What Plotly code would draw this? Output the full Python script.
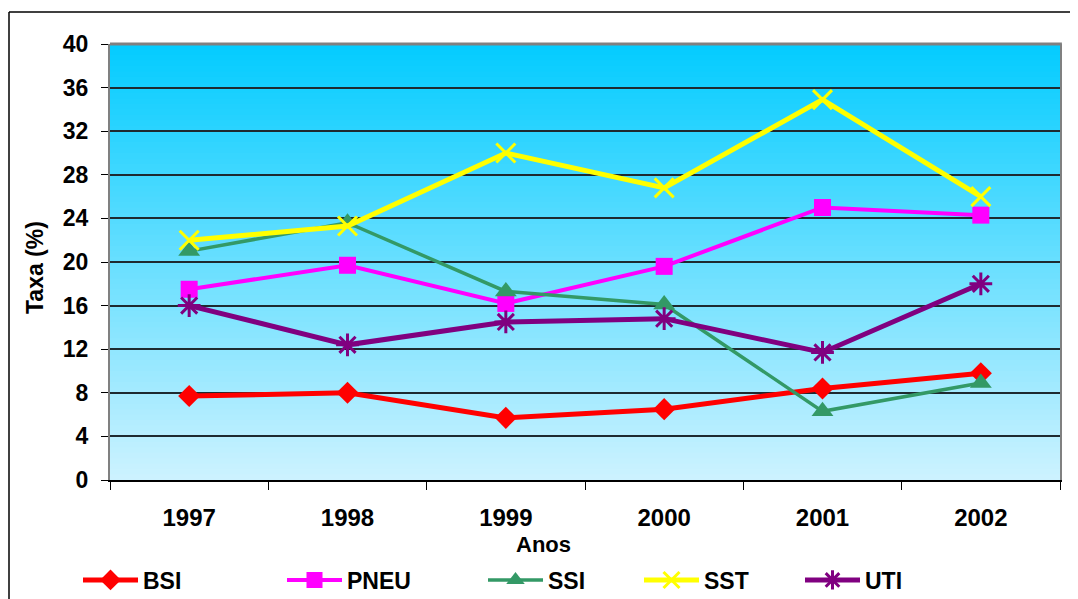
import plotly.graph_objects as go

years = ["1997", "1998", "1999", "2000", "2001", "2002"]
bsi = [7.7, 8.0, 5.7, 6.5, 8.4, 9.8]
pneu = [17.5, 19.7, 16.2, 19.6, 25.0, 24.3]
ssi = [21.0, 23.6, 17.3, 16.1, 6.3, 8.9]
sst = [22.0, 23.3, 30.0, 26.8, 34.9, 26.0]
uti = [16.0, 12.4, 14.5, 14.8, 11.7, 18.0]

series_names = ["BSI", "PNEU", "SSI", "SST", "UTI"]
y_ticks = list(range(0, 41, 4))

# page body has an 8px margin; work in screen coordinates
OFF = 8
PX0, PX1, PY0, PY1 = 110, 1060, 44, 480   # plot area on screen
W, H = 1078, 599
L, T = PX0 - OFF, PY0 - OFF
pw, ph = PX1 - PX0, PY1 - PY0
R, B = W - L - pw, H - T - ph

def px2x(px):
    return (px - PX0) / pw

def py2y(py):
    return (PY1 - py) / ph

FONT = "Liberation Sans, Arial, sans-serif"

styles = [
    dict(data=bsi, color="#FF0000", lw=5, sym="diamond", size=17, mlw=0),
    dict(data=pneu, color="#FF00FF", lw=4, sym="square", size=17, mlw=0),
    dict(data=ssi, color="#339966", lw=3.5, sym="triangle-up", size=19, mlw=0),
    dict(data=sst, color="#FFFF00", lw=5, sym="x-thin-open", size=19, mlw=3),
    dict(data=uti, color="#800080", lw=5, sym="asterisk-open", size=19, mlw=3),
]

legend_x = [78, 282, 483, 639, 800]

fig = go.Figure()
for i, (name, st) in enumerate(zip(series_names, styles)):
    lg = "legend" if i == 0 else f"legend{i+1}"
    fig.add_trace(go.Scatter(
        x=years, y=st["data"], name=name, mode="lines+markers",
        line=dict(color=st["color"], width=st["lw"]),
        marker=dict(symbol=st["sym"], size=st["size"], color=st["color"],
                    line=dict(color=st["color"], width=st["mlw"])),
        legend=lg,
    ))

# gradient background
shapes = []
N = 80
top = (4, 204, 255)
bot = (204, 242, 255)
for i in range(N):
    f = i / (N - 1)
    c = tuple(round(bot[k] + (top[k] - bot[k]) * f) for k in range(3))
    shapes.append(dict(type="rect", xref="paper", yref="paper",
                       x0=0, x1=1, y0=i / N, y1=min(1, (i + 1) / N + 0.003),
                       fillcolor=f"rgb{c}", line=dict(width=0), layer="below"))
# top border of plot area (grey)
shapes.append(dict(type="line", xref="paper", yref="paper", x0=0, x1=1.002, y0=1, y1=1,
                   line=dict(color="#808080", width=3), layer="above"))
# outer figure border
shapes.append(dict(type="line", xref="paper", yref="paper",
                   x0=px2x(9), x1=px2x(1095), y0=py2y(12), y1=py2y(12),
                   line=dict(color="#000000", width=1.5), layer="above"))
shapes.append(dict(type="line", xref="paper", yref="paper",
                   x0=px2x(9), x1=px2x(9), y0=py2y(12), y1=py2y(615),
                   line=dict(color="#000000", width=1.5), layer="above"))

legends = {}
for i in range(5):
    key = "legend" if i == 0 else f"legend{i+1}"
    legends[key] = dict(
        x=px2x(legend_x[i]), y=py2y(580), xanchor="left", yanchor="middle",
        orientation="h", bgcolor="rgba(0,0,0,0)", borderwidth=0,
        itemwidth=55, font=dict(family=FONT, size=23, color="black", weight="bold"),
        itemclick=False,
    )

fig.update_layout(
    width=W, height=H,
    margin=dict(l=L, r=R, t=T, b=B, pad=0, autoexpand=False),
    paper_bgcolor="white",
    plot_bgcolor="rgba(0,0,0,0)",
    showlegend=True,
    shapes=shapes,
    **legends,
    xaxis=dict(
        type="category", categoryorder="array", categoryarray=years,
        range=[-0.5, 5.5], showgrid=False, zeroline=False,
        showline=True, linecolor="black", linewidth=1.5,
        ticks="outside", tickson="boundaries", ticklen=8, tickcolor="black", tickwidth=1.2,
        tickfont=dict(family=FONT, size=24, color="black", weight="bold"),
        ticklabelstandoff=15,
    ),
    yaxis=dict(
        range=[0, 40], tickvals=y_ticks, ticktext=[str(v) for v in y_ticks],
        showgrid=True, gridcolor="#1e2a30", gridwidth=1.5, zeroline=False,
        showline=True, linecolor="#808080", linewidth=2, mirror=True,
        ticks="outside", ticklen=7, tickcolor="black", tickwidth=1.2,
        tickfont=dict(family=FONT, size=23, color="black", weight="bold"),
        ticklabelstandoff=8,
    ),
    annotations=[
        dict(text="Anos", xref="paper", yref="paper", x=px2x(543), y=py2y(544),
             showarrow=False, xanchor="center", yanchor="middle",
             font=dict(family=FONT, size=22, color="black", weight="bold")),
        dict(text="Taxa (%)", xref="paper", yref="paper", x=px2x(35), y=py2y(268),
             showarrow=False, xanchor="center", yanchor="middle", textangle=-90,
             font=dict(family=FONT, size=23, color="black", weight="bold")),
    ],
)

fig.write_html("out.html")
